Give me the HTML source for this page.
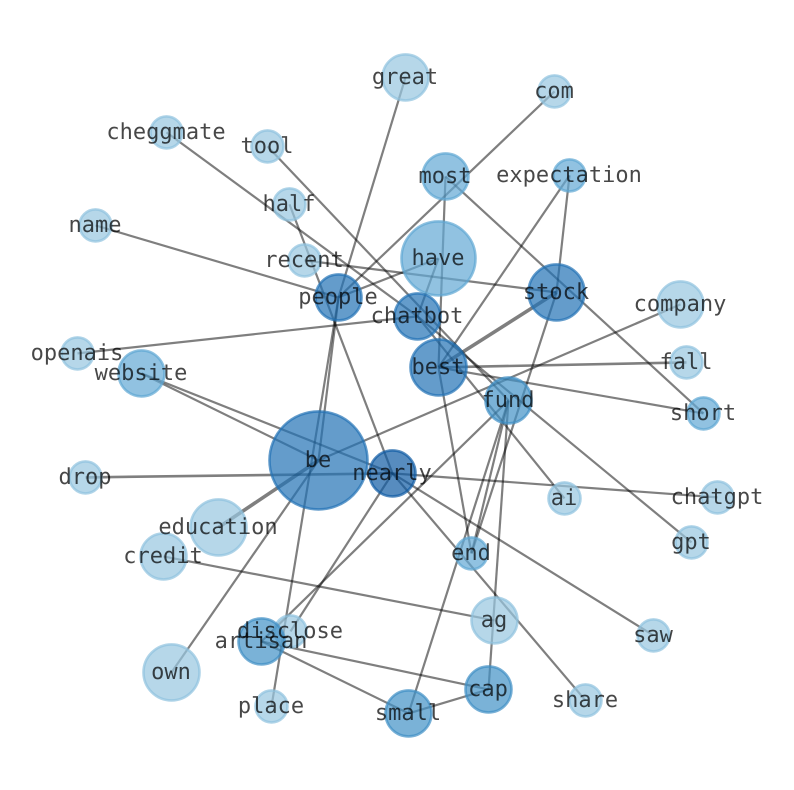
<!DOCTYPE html>
<html><head><meta charset="utf-8"><style>
html,body{margin:0;padding:0;background:#fff;width:794px;height:790px;overflow:hidden}
svg{display:block}
.e line{stroke:#000;stroke-opacity:.5;stroke-width:2.2;stroke-linecap:butt}
.n circle{fill-opacity:.7;stroke-opacity:.7;stroke-width:2.6}
.a{fill:#97c6e0;stroke:#8fc2de}
.b{fill:#62a8d4;stroke:#5ea6d3}
.c{fill:#4292c6;stroke:#3f8fc5}
.d{fill:#2272b5;stroke:#2272b5}
.f{fill:#0f5ba4;stroke:#0f5ba4}
.t text{font-family:"DejaVu Sans Mono","Liberation Mono",monospace;font-size:22px;fill:#000;fill-opacity:.72;text-anchor:middle;text-rendering:geometricPrecision}
</style></head><body>
<svg width="794" height="790" viewBox="0 0 794 790" xmlns="http://www.w3.org/2000/svg">
<rect width="794" height="790" fill="#fff"/>
<g transform="translate(0.5,0.4)">
<g class="e">
<line x1="405" y1="77" x2="338" y2="297"/>
<line x1="338" y1="297" x2="318" y2="460"/>
<line x1="338" y1="297" x2="271" y2="706"/>
<line x1="289" y1="204" x2="392" y2="473"/>
<line x1="554" y1="91" x2="338" y2="297"/>
<line x1="95" y1="225" x2="338" y2="297"/>
<line x1="338" y1="297" x2="438" y2="258"/>
<line x1="304" y1="260" x2="556" y2="292"/>
<line x1="417" y1="316" x2="438" y2="258"/>
<line x1="77" y1="353" x2="417" y2="316"/>
<line x1="166" y1="132" x2="417" y2="316"/>
<line x1="417" y1="316" x2="564" y2="498"/>
<line x1="417" y1="316" x2="691" y2="542"/>
<line x1="267" y1="146" x2="508" y2="400"/>
<line x1="445" y1="176" x2="438" y2="367"/>
<line x1="445" y1="176" x2="703" y2="413"/>
<line x1="438" y1="367" x2="471" y2="553"/>
<line x1="438" y1="367" x2="556" y2="292" style="stroke-width:3.6"/>
<line x1="438" y1="367" x2="569" y2="175"/>
<line x1="438" y1="367" x2="686" y2="362" style="stroke-width:2.6"/>
<line x1="438" y1="367" x2="703" y2="413"/>
<line x1="569" y1="175" x2="556" y2="292"/>
<line x1="556" y1="292" x2="471" y2="553"/>
<line x1="508" y1="400" x2="471" y2="553"/>
<line x1="508" y1="400" x2="408" y2="713"/>
<line x1="508" y1="400" x2="488" y2="689"/>
<line x1="508" y1="400" x2="261" y2="641"/>
<line x1="680" y1="304" x2="318" y2="460"/>
<line x1="318" y1="460" x2="218" y2="527" style="stroke-width:3.6"/>
<line x1="318" y1="460" x2="171" y2="672"/>
<line x1="141" y1="373" x2="318" y2="460"/>
<line x1="141" y1="373" x2="392" y2="473"/>
<line x1="85" y1="477" x2="392" y2="473" style="stroke-width:2.6"/>
<line x1="392" y1="473" x2="717" y2="497"/>
<line x1="392" y1="473" x2="653" y2="635"/>
<line x1="392" y1="473" x2="585" y2="700"/>
<line x1="392" y1="473" x2="290" y2="631"/>
<line x1="163" y1="556" x2="494" y2="620"/>
<line x1="261" y1="641" x2="488" y2="689"/>
<line x1="261" y1="641" x2="408" y2="713"/>
<line x1="488" y1="689" x2="408" y2="713"/>
</g>
<g class="n">
<circle class="a" cx="405" cy="77" r="23"/>
<circle class="a" cx="554" cy="91" r="16"/>
<circle class="a" cx="166" cy="132" r="16"/>
<circle class="a" cx="267" cy="146" r="16"/>
<circle class="b" cx="569" cy="175" r="16"/>
<circle class="b" cx="445" cy="176" r="23"/>
<circle class="a" cx="289" cy="204" r="16"/>
<circle class="a" cx="95" cy="225" r="16"/>
<circle class="b" cx="438" cy="258" r="37"/>
<circle class="a" cx="304" cy="260" r="16"/>
<circle class="d" cx="338" cy="297" r="23"/>
<circle class="d" cx="556" cy="292" r="28"/>
<circle class="a" cx="680" cy="304" r="23"/>
<circle class="d" cx="417" cy="316" r="23"/>
<circle class="a" cx="77" cy="353" r="16"/>
<circle class="a" cx="686" cy="362" r="16"/>
<circle class="d" cx="438" cy="367" r="28"/>
<circle class="b" cx="141" cy="373" r="23"/>
<circle class="c" cx="508" cy="400" r="23"/>
<circle class="b" cx="703" cy="413" r="16"/>
<circle class="d" cx="318" cy="460" r="49"/>
<circle class="f" cx="392" cy="473" r="23"/>
<circle class="a" cx="85" cy="477" r="16"/>
<circle class="a" cx="717" cy="497" r="16"/>
<circle class="a" cx="564" cy="498" r="16"/>
<circle class="a" cx="218" cy="527" r="28"/>
<circle class="a" cx="691" cy="542" r="16"/>
<circle class="b" cx="471" cy="553" r="16"/>
<circle class="a" cx="163" cy="556" r="23"/>
<circle class="a" cx="494" cy="620" r="23"/>
<circle class="a" cx="653" cy="635" r="16"/>
<circle class="a" cx="290" cy="631" r="16"/>
<circle class="c" cx="261" cy="641" r="23"/>
<circle class="a" cx="171" cy="672" r="28"/>
<circle class="c" cx="488" cy="689" r="23"/>
<circle class="a" cx="585" cy="700" r="16"/>
<circle class="a" cx="271" cy="706" r="16"/>
<circle class="c" cx="408" cy="713" r="23"/>
</g>
</g>
<g class="t">
<text x="405" y="84">great</text>
<text x="554" y="98">com</text>
<text x="166" y="139">cheggmate</text>
<text x="267" y="153">tool</text>
<text x="569" y="182">expectation</text>
<text x="445" y="183">most</text>
<text x="289" y="211">half</text>
<text x="95" y="232">name</text>
<text x="438" y="265">have</text>
<text x="304" y="267">recent</text>
<text x="338" y="304">people</text>
<text x="556" y="299">stock</text>
<text x="680" y="311">company</text>
<text x="417" y="323">chatbot</text>
<text x="77" y="360">openais</text>
<text x="686" y="369">fall</text>
<text x="438" y="374">best</text>
<text x="141" y="380">website</text>
<text x="508" y="407">fund</text>
<text x="703" y="420">short</text>
<text x="318" y="467">be</text>
<text x="392" y="480">nearly</text>
<text x="85" y="484">drop</text>
<text x="717" y="504">chatgpt</text>
<text x="564" y="505">ai</text>
<text x="218" y="534">education</text>
<text x="691" y="549">gpt</text>
<text x="471" y="560">end</text>
<text x="163" y="563">credit</text>
<text x="494" y="627">ag</text>
<text x="653" y="642">saw</text>
<text x="290" y="638">disclose</text>
<text x="261" y="648">artisan</text>
<text x="171" y="679">own</text>
<text x="488" y="696">cap</text>
<text x="585" y="707">share</text>
<text x="271" y="713">place</text>
<text x="408" y="720">small</text>
</g>
</svg>
</body></html>
